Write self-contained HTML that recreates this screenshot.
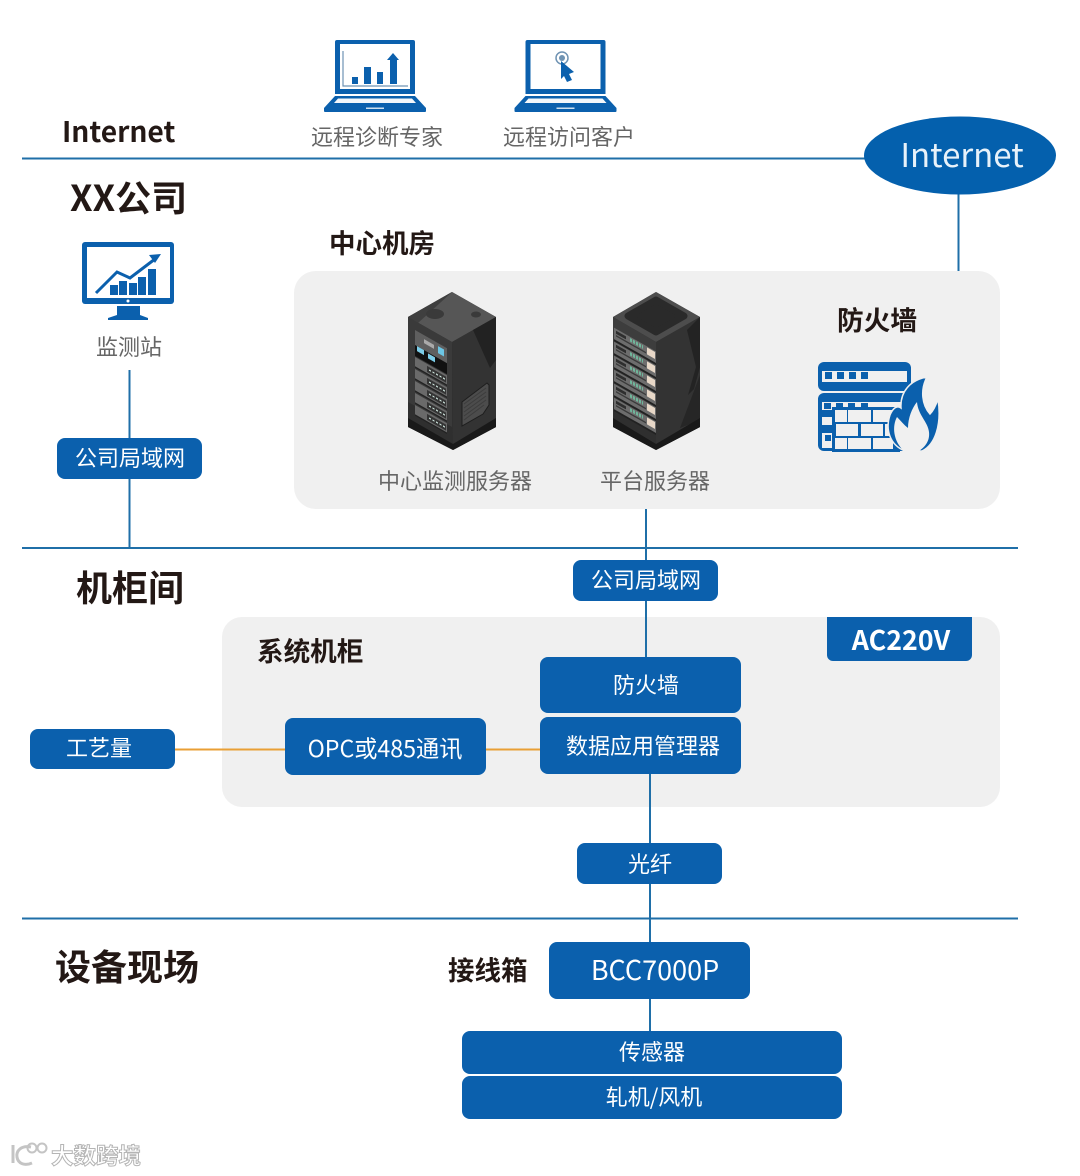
<!DOCTYPE html>
<html><head><meta charset="utf-8"><style>
html,body{margin:0;padding:0;background:#fff}
svg{display:block;filter:blur(.35px)}
text{font-family:"Noto Sans CJK SC","Liberation Sans",sans-serif}
.b{font-weight:700;fill:#231815}
.g{fill:#666;font-size:22px}
.w{fill:#fff;font-size:22px;text-anchor:middle}
.box{fill:#0b60ad}
.bl{stroke:#1f6fa8;stroke-width:2;fill:none}
.o{stroke:#e99f35;stroke-width:2;fill:none}
</style></head><body>
<svg width="1080" height="1176" viewBox="0 0 1080 1176" xmlns="http://www.w3.org/2000/svg">
<defs>
<g id="lap">
<path d="M337 40h76a2 2 0 0 1 2 2v52h-80v-52a2 2 0 0 1 2-2z" fill="#0b60ad"/>
<rect x="340" y="44" width="70" height="45" fill="#fff"/>
<path d="M335 96h80l11 12v3a1 1 0 0 1-1 1h-100a1 1 0 0 1-1-1v-3z" fill="#0b60ad"/>
<path d="M338 98.500h74l4 4.500h-82z" fill="#f4f7fa"/>
<rect x="366" y="107.500" width="18" height="1.500" fill="#cfe0ee"/>
</g>
<g id="r1"><path d="M0 0h32v10h-32z" fill="#6a6a6a"/><path d="M12 2h19v6h-19z" fill="#343434"/><path d="M14 5h16" stroke="#cfe6de" stroke-width="1.300" stroke-dasharray="2 1.500"/><path d="M0 10h32" stroke="#222" stroke-width="1.500"/></g>
<g id="r2"><path d="M0 0h42v12h-42z" fill="#6d6d6d"/><path d="M2 2h10v3h-10z" fill="#2e2e2e"/><path d="M2 7h30" stroke="#3a3a3a" stroke-width="1.500"/><path d="M16 3h13" stroke="#6fb59a" stroke-width="3.500" stroke-dasharray="2 1"/><path d="M33 1h8v7h-8z" fill="#e8d8c8"/><path d="M0 12.500h42" stroke="#222" stroke-width="2"/></g>
</defs>

<rect x="294" y="271" width="706" height="238" rx="22" fill="#f0f0f0"/>
<rect x="222" y="617" width="778" height="190" rx="20" fill="#f0f0f0"/>

<path class="bl" d="M22 158.500H870M22 548H1018M22 918.500H1018"/>
<path class="bl" d="M958.500 190V271M129.500 370V548M646 509V660M650 772V1035"/>
<path class="o" d="M174 749.500H286M486 749.500H541"/>

<ellipse cx="960" cy="155.500" rx="96" ry="39" fill="#0460ad"/>
<text x="962" y="167" font-size="33" fill="#e8f2fa" text-anchor="middle">Internet</text>

<text x="62" y="142" font-size="28.200" class="b">Internet</text>
<text x="70" y="211" font-size="36" class="b">XX公司</text>
<text x="329" y="253" font-size="26.500" class="b">中心机房</text>
<text x="837" y="330" font-size="26.700" class="b">防火墙</text>
<text x="76" y="601" font-size="36" class="b">机柜间</text>
<text x="257" y="661" font-size="26.600" class="b">系统机柜</text>
<text x="55" y="980" font-size="36" class="b">设备现场</text>
<text x="448" y="980" font-size="26.500" class="b">接线箱</text>

<text x="311" y="145" class="g">远程诊断专家</text>
<text x="503" y="145" class="g">远程访问客户</text>
<text x="96" y="355" class="g">监测站</text>
<text x="378" y="489" class="g">中心监测服务器</text>
<text x="600" y="489" class="g">平台服务器</text>

<!-- laptops -->
<use href="#lap"/>
<g fill="#0b60ad">
<rect x="352" y="77" width="6" height="7"/><rect x="364" y="67" width="7" height="17"/><rect x="377" y="72" width="6" height="12"/>
<path d="M390 84V60h-3l6-7 6 7h-2v24z"/>
</g>
<path d="M343 51V86H408" stroke="#6f93b3" stroke-width="1.200" fill="none"/>
<use href="#lap" x="190.500"/>
<circle cx="562" cy="58" r="6" fill="none" stroke="#6f93b3" stroke-width="1.500"/>
<circle cx="562" cy="58" r="3" fill="#6f93b3"/>
<path d="M561 61l13 11-5 2 3 6-5 2-3-6-3 3z" fill="#0b60ad"/>

<!-- monitor -->
<rect x="82" y="242" width="92" height="62" rx="3" fill="#0b60ad"/>
<rect x="87" y="247" width="83" height="51" fill="#fff"/>
<path d="M117 306h23v9l8 3v2h-40v-2l9-3z" fill="#0b60ad"/>
<circle cx="128" cy="301" r="1.500" fill="#fff"/>
<g fill="#0b60ad"><rect x="110" y="285" width="8" height="10"/><rect x="119" y="281" width="8" height="14"/><rect x="129" y="283" width="8" height="12"/><rect x="138" y="277" width="8" height="18"/><rect x="148" y="269" width="8" height="26"/></g>
<path d="M96 293l21-21 13 6 25-19" stroke="#0b60ad" stroke-width="3" fill="none"/>
<path d="M161 254l-12 1 6 8z" fill="#0b60ad"/>

<!-- server 1 -->
<g>
<path d="M452 292l44 25v110l-43 23-45-23v-110z" fill="#2f2f2f"/>
<path d="M452 292l44 25-44 25-44-25z" fill="#565656"/>
<path d="M452 292l-44 25 10 6 22-20z" fill="#3f3f3f"/>
<ellipse cx="435" cy="314" rx="9" ry="5" fill="#3a3a3a"/><ellipse cx="476" cy="314.500" rx="5" ry="3" fill="#3a3a3a"/>
<path d="M452 342l44-25v110l-43 23z" fill="#333"/>
<path d="M473 330l23-13v43l-6 8z" fill="#222"/>
<path d="M462 402l25-19 2 2v20l-6 9-21 12z" fill="#4c4c4c" stroke="#1e1e1e" stroke-width="1"/>
<path d="M464 404l22-16M464 408l22-16M464 412l22-16M464 416l22-16M464 420l20-15" stroke="#3c3c3c" stroke-width="1"/>
<path d="M408 317l44 25v85l-44-25z" fill="#3a3a3a"/>
<path d="M408 418l45 26 43-26v9l-43 23-45-23z" fill="#191919"/>
<g transform="matrix(1 .57 0 1 408 317)">
<rect x="7" y="9" width="32" height="15" fill="#5f5f5f"/>
<rect x="7" y="24" width="32" height="11" fill="#111"/>
<rect x="16" y="13" width="10" height="4" fill="#aaa"/><rect x="30" y="12" width="6" height="7" fill="#6cc6e4"/>
<rect x="9" y="24" width="7" height="5" fill="#7ccde8"/><rect x="20" y="25" width="7" height="5" fill="#7ccde8"/>
<use href="#r1" x="7" y="36"/><use href="#r1" x="7" y="48"/><use href="#r1" x="7" y="60"/><use href="#r1" x="7" y="72"/><use href="#r1" x="7" y="84"/>
</g>
</g>

<!-- server 2 -->
<g>
<path d="M656 292l44 25v110l-44 23-43-23v-110z" fill="#2f2f2f"/>
<path d="M656 292l44 25-44 25-43-25z" fill="#4d4d4d"/>
<path d="M656 300l28 16-28 16-28-16z" fill="#2a2a2a" stroke="#2a2a2a" stroke-width="7" stroke-linejoin="round"/>
<path d="M656 342l44-25v110l-44 23z" fill="#333"/>
<path d="M687 330l13-13v50l-6 22-6 6 8-28z" fill="#232323"/>
<path d="M700 375v45l-20 8z" fill="#262626"/>
<path d="M613 317l43 25v85l-43-25z" fill="#3d3d3d"/>
<path d="M613 418l43 26 44-26v9l-44 23-43-23z" fill="#191919"/>
<g transform="matrix(1 .57 0 1 613 317)">
<use href="#r2" x="1" y="10"/><use href="#r2" x="1" y="24"/><use href="#r2" x="1" y="38"/><use href="#r2" x="1" y="52"/><use href="#r2" x="1" y="66"/><use href="#r2" x="1" y="80"/>
</g>
</g>

<!-- firewall -->
<g>
<rect x="818" y="362" width="93" height="29" rx="6" fill="#0b60ad"/>
<rect x="822" y="371" width="85" height="11" fill="#f0f0f0"/>
<g fill="#0b60ad"><rect x="825" y="372" width="7" height="7"/><rect x="837" y="372" width="7" height="7"/><rect x="849" y="372" width="7" height="7"/><rect x="861" y="372" width="7" height="7"/></g>
<rect x="818" y="393" width="93" height="58" rx="6" fill="#0b60ad"/>
<rect x="822" y="402" width="85" height="8" fill="#f0f0f0"/>
<g fill="#0b60ad"><rect x="824" y="403" width="7" height="6"/><rect x="836" y="403" width="7" height="6"/><rect x="848" y="403" width="7" height="6"/><rect x="861" y="403" width="7" height="6"/></g>
<rect x="822" y="417" width="10" height="8" fill="#f0f0f0"/><rect x="822" y="433" width="10" height="15" fill="#f0f0f0"/>
<rect x="825" y="435" width="6" height="6" fill="#0b60ad"/>
<rect x="832" y="407" width="68" height="45" fill="#0b60ad"/>
<g fill="#f0f0f0">
<rect x="835" y="410" width="12" height="12"/><rect x="848" y="410" width="23" height="12"/><rect x="873" y="410" width="20" height="12"/>
<rect x="836" y="424" width="22" height="12"/><rect x="861" y="424" width="22" height="12"/><rect x="885" y="424" width="10" height="12"/>
<rect x="835" y="438" width="12" height="11"/><rect x="848" y="438" width="23" height="11"/><rect x="873" y="438" width="20" height="11"/>
</g>
<path d="M927 377C910 380 900 392 901 408C897 405 893 408 890 415C885 430 890 445 905 451L922 451C935 445 942 425 938 399C935 408 932 412 930 414C922 405 920 390 927 377z" fill="#0b60ad" stroke="#f0f0f0" stroke-width="1.500"/>
<path d="M904 451C893 441 892 426 897 417C901 421 904 425 908 428C908 418 912 408 917 402C918 415 928 422 929 432C930 441 925 447 919 451z" fill="#f0f0f0"/>
</g>

<!-- boxes -->
<rect class="box" x="57" y="438" width="145" height="41" rx="8"/>
<text class="w" x="130" y="466">公司局域网</text>
<rect class="box" x="573" y="560" width="145" height="41" rx="8"/>
<text class="w" x="646" y="588">公司局域网</text>
<path class="box" d="M827 617h145v38a6 6 0 0 1-6 6h-133a6 6 0 0 1-6-6z"/>
<text x="901" y="650" font-size="26.800" font-weight="700" fill="#fff" text-anchor="middle">AC220V</text>
<rect class="box" x="540" y="657" width="201" height="56" rx="8"/>
<text class="w" x="646" y="693">防火墙</text>
<rect class="box" x="540" y="717" width="201" height="57" rx="8"/>
<text class="w" x="643" y="754">数据应用管理器</text>
<rect class="box" x="285" y="718" width="201" height="57" rx="8"/>
<text class="w" x="385" y="757" style="font-size:23.200px">OPC或485通讯</text>
<rect class="box" x="30" y="729" width="145" height="40" rx="8"/>
<text class="w" x="99" y="756">工艺量</text>
<rect class="box" x="577" y="843" width="145" height="41" rx="8"/>
<text class="w" x="650" y="872">光纤</text>
<rect class="box" x="549" y="942" width="201" height="57" rx="8"/>
<text x="655" y="980" font-size="27" fill="#fff" text-anchor="middle">BCC7000P</text>
<rect class="box" x="462" y="1031" width="380" height="43" rx="8"/>
<text class="w" x="652" y="1060">传感器</text>
<rect class="box" x="462" y="1076" width="380" height="43" rx="8"/>
<text class="w" x="654" y="1105">轧机/风机</text>

<!-- watermark -->
<text x="51" y="1164" font-size="22.500" font-weight="700" fill="#fff" stroke="#b5b5b5" stroke-width="1">大数跨境</text>
<path d="M13 1145v18M31 1147c-10-2-15 4-14 10 1 7 8 9 15 6" fill="none" stroke="#c4c4c4" stroke-width="3"/>
<circle cx="32" cy="1148" r="4.500" fill="none" stroke="#c4c4c4" stroke-width="2"/>
<circle cx="42" cy="1148" r="4.500" fill="none" stroke="#c4c4c4" stroke-width="2"/>
</svg>
</body></html>
